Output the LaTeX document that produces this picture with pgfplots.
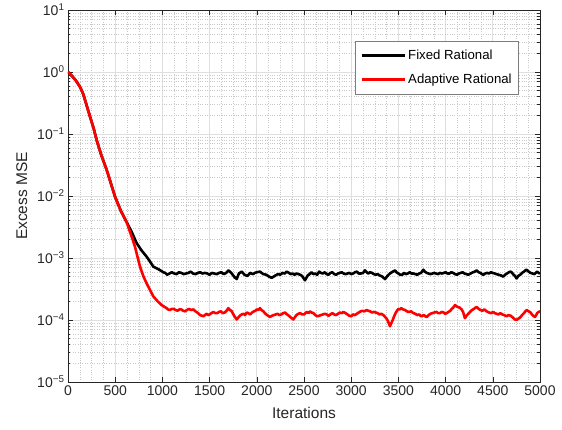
\documentclass[border=0pt]{standalone}
\usepackage{pgfplots}
\usepackage{pgfplotstable}
\pgfplotsset{compat=1.18}
\usepackage{fontspec}
\setmainfont{Liberation Sans}
\definecolor{tickgray}{HTML}{262626}
\definecolor{majgrid}{HTML}{DFDFDF}
\definecolor{mingrid}{HTML}{C8C8C8}

\pgfplotstableread{
x y
0 1.0
40 0.871
80 0.741
127 0.575
160 0.447
180 0.355
233 0.191
270 0.126
304 0.0794
350 0.0468
410 0.0263
498 0.00977
560 0.00575
621 0.0038
675 0.00263
727 0.00174
780 0.00132
833 0.00105
870 8.71e-4
904 7.24e-4
957 6.61e-4
1010 5.89e-4
1030 5.75e-4
1050 5.37e-4
1075 5.62e-4
1100 5.89e-4
1125 5.62e-4
1150 5.50e-4
1175 5.89e-4
1200 5.75e-4
1225 5.50e-4
1250 5.62e-4
1275 5.75e-4
1300 6.03e-4
1325 5.62e-4
1350 5.50e-4
1375 5.75e-4
1400 5.89e-4
1425 5.62e-4
1450 5.75e-4
1475 5.62e-4
1500 5.37e-4
1525 5.75e-4
1550 5.62e-4
1575 5.50e-4
1600 5.75e-4
1625 5.89e-4
1650 5.50e-4
1675 5.75e-4
1700 6.31e-4
1730 5.75e-4
1760 5.01e-4
1787 4.57e-4
1810 5.62e-4
1840 6.03e-4
1870 5.37e-4
1900 5.13e-4
1930 5.75e-4
1960 5.50e-4
1980 5.75e-4
2000 5.89e-4
2034 6.03e-4
2050 5.75e-4
2070 5.50e-4
2100 5.37e-4
2130 5.01e-4
2157 4.79e-4
2190 5.13e-4
2210 5.37e-4
2230 5.50e-4
2250 5.37e-4
2270 5.75e-4
2295 5.62e-4
2317 6.03e-4
2340 5.75e-4
2360 5.50e-4
2380 5.62e-4
2400 5.37e-4
2420 5.62e-4
2440 5.50e-4
2460 5.37e-4
2480 5.13e-4
2510 4.37e-4
2540 5.25e-4
2560 5.50e-4
2580 5.89e-4
2600 5.50e-4
2620 5.62e-4
2640 5.37e-4
2660 6.03e-4
2680 5.75e-4
2700 5.62e-4
2720 5.89e-4
2740 5.50e-4
2760 5.37e-4
2780 5.75e-4
2800 5.89e-4
2820 5.50e-4
2840 5.37e-4
2860 5.62e-4
2880 5.75e-4
2900 5.89e-4
2920 5.62e-4
2940 5.50e-4
2960 5.62e-4
2980 5.75e-4
3000 5.50e-4
3020 5.62e-4
3040 5.89e-4
3060 6.03e-4
3080 5.62e-4
3100 5.62e-4
3125 5.75e-4
3146 6.31e-4
3165 5.89e-4
3180 5.62e-4
3200 5.89e-4
3220 5.75e-4
3240 5.50e-4
3260 5.37e-4
3280 5.50e-4
3300 5.25e-4
3330 5.01e-4
3358 4.57e-4
3390 5.25e-4
3410 5.62e-4
3430 5.89e-4
3464 6.31e-4
3480 5.89e-4
3500 5.62e-4
3520 5.37e-4
3540 5.37e-4
3560 5.75e-4
3580 5.50e-4
3600 5.62e-4
3620 5.89e-4
3640 5.62e-4
3660 5.62e-4
3680 5.50e-4
3700 5.37e-4
3720 5.62e-4
3740 5.75e-4
3764 6.46e-4
3780 6.03e-4
3800 5.75e-4
3820 5.62e-4
3840 5.50e-4
3860 5.62e-4
3880 5.75e-4
3900 5.62e-4
3920 5.50e-4
3940 5.75e-4
3960 5.62e-4
3980 5.75e-4
4000 5.89e-4
4020 5.62e-4
4040 5.62e-4
4060 5.89e-4
4080 5.75e-4
4100 5.50e-4
4120 5.37e-4
4140 5.62e-4
4160 5.75e-4
4180 5.89e-4
4200 5.62e-4
4220 5.50e-4
4240 5.37e-4
4265 5.62e-4
4290 5.89e-4
4310 6.03e-4
4329 6.31e-4
4350 5.89e-4
4370 5.75e-4
4385 5.50e-4
4400 5.37e-4
4420 5.62e-4
4440 5.75e-4
4460 5.62e-4
4480 5.89e-4
4500 5.75e-4
4520 5.62e-4
4540 5.50e-4
4560 5.37e-4
4585 5.25e-4
4611 5.01e-4
4630 5.37e-4
4650 5.62e-4
4670 5.89e-4
4690 6.03e-4
4705 5.75e-4
4720 5.37e-4
4735 5.13e-4
4752 4.68e-4
4770 5.13e-4
4790 5.37e-4
4810 5.75e-4
4830 6.03e-4
4845 6.31e-4
4858 6.46e-4
4880 6.03e-4
4900 5.75e-4
4920 5.62e-4
4940 5.50e-4
4955 5.75e-4
4970 6.03e-4
4985 5.75e-4
5000 5.62e-4
}\fixedtab

\pgfplotstableread{
x y
0 1.0
40 0.871
80 0.741
127 0.575
160 0.447
180 0.355
233 0.191
270 0.126
304 0.0794
350 0.0468
410 0.0263
498 0.00977
560 0.00575
621 0.0038
650 0.00282
680 0.00209
710 0.00151
763 7.24e-4
800 5.01e-4
833 3.89e-4
870 3.02e-4
904 2.40e-4
950 2.00e-4
992 1.74e-4
1045 1.55e-4
1060 1.48e-4
1080 1.45e-4
1100 1.51e-4
1120 1.51e-4
1140 1.45e-4
1160 1.41e-4
1180 1.48e-4
1200 1.48e-4
1220 1.41e-4
1240 1.38e-4
1260 1.45e-4
1280 1.51e-4
1305 1.45e-4
1328 1.48e-4
1350 1.38e-4
1370 1.32e-4
1385 1.26e-4
1400 1.20e-4
1420 1.17e-4
1434 1.15e-4
1450 1.20e-4
1470 1.26e-4
1485 1.20e-4
1500 1.23e-4
1520 1.29e-4
1540 1.35e-4
1560 1.29e-4
1580 1.29e-4
1600 1.35e-4
1620 1.38e-4
1640 1.29e-4
1660 1.32e-4
1680 1.41e-4
1698 1.55e-4
1715 1.45e-4
1730 1.41e-4
1745 1.29e-4
1760 1.17e-4
1787 1.02e-4
1805 1.10e-4
1820 1.17e-4
1840 1.23e-4
1860 1.26e-4
1875 1.20e-4
1893 1.32e-4
1910 1.29e-4
1930 1.23e-4
1950 1.32e-4
1970 1.38e-4
1985 1.41e-4
2000 1.48e-4
2015 1.45e-4
2034 1.55e-4
2050 1.45e-4
2070 1.38e-4
2085 1.29e-4
2100 1.23e-4
2120 1.17e-4
2140 1.12e-4
2160 1.17e-4
2180 1.20e-4
2200 1.23e-4
2220 1.26e-4
2240 1.20e-4
2260 1.23e-4
2280 1.29e-4
2300 1.32e-4
2320 1.23e-4
2340 1.17e-4
2360 1.10e-4
2387 1.02e-4
2405 1.12e-4
2420 1.20e-4
2440 1.26e-4
2460 1.29e-4
2480 1.23e-4
2500 1.23e-4
2515 1.29e-4
2530 1.35e-4
2548 1.29e-4
2564 1.38e-4
2580 1.32e-4
2600 1.29e-4
2620 1.20e-4
2640 1.15e-4
2660 1.17e-4
2680 1.20e-4
2700 1.23e-4
2720 1.26e-4
2740 1.23e-4
2760 1.17e-4
2780 1.23e-4
2800 1.29e-4
2820 1.23e-4
2840 1.20e-4
2860 1.26e-4
2880 1.32e-4
2900 1.29e-4
2917 1.35e-4
2940 1.29e-4
2960 1.23e-4
2980 1.17e-4
3000 1.15e-4
3020 1.23e-4
3040 1.20e-4
3060 1.26e-4
3080 1.32e-4
3100 1.38e-4
3120 1.41e-4
3140 1.38e-4
3164 1.45e-4
3180 1.41e-4
3200 1.38e-4
3220 1.32e-4
3240 1.35e-4
3260 1.32e-4
3280 1.29e-4
3300 1.23e-4
3320 1.26e-4
3340 1.20e-4
3360 1.12e-4
3375 1.05e-4
3390 9.55e-5
3411 7.94e-5
3425 8.91e-5
3440 1.00e-4
3455 1.15e-4
3470 1.29e-4
3485 1.41e-4
3500 1.51e-4
3515 1.48e-4
3530 1.55e-4
3550 1.48e-4
3570 1.45e-4
3590 1.38e-4
3610 1.35e-4
3635 1.38e-4
3658 1.29e-4
3680 1.26e-4
3700 1.20e-4
3720 1.23e-4
3740 1.15e-4
3755 1.17e-4
3770 1.20e-4
3785 1.15e-4
3800 1.12e-4
3820 1.20e-4
3840 1.26e-4
3860 1.29e-4
3880 1.32e-4
3905 1.35e-4
3920 1.29e-4
3940 1.29e-4
3960 1.35e-4
3980 1.32e-4
3995 1.26e-4
4011 1.29e-4
4030 1.35e-4
4050 1.41e-4
4065 1.51e-4
4080 1.58e-4
4100 1.74e-4
4115 1.66e-4
4130 1.62e-4
4150 1.58e-4
4170 1.48e-4
4185 1.35e-4
4205 1.07e-4
4222 1.17e-4
4240 1.26e-4
4260 1.35e-4
4280 1.45e-4
4300 1.51e-4
4315 1.58e-4
4329 1.62e-4
4350 1.51e-4
4370 1.45e-4
4390 1.41e-4
4410 1.48e-4
4435 1.38e-4
4460 1.32e-4
4480 1.29e-4
4505 1.35e-4
4520 1.29e-4
4540 1.26e-4
4560 1.23e-4
4580 1.29e-4
4600 1.23e-4
4620 1.20e-4
4646 1.15e-4
4665 1.20e-4
4690 1.17e-4
4705 1.12e-4
4720 1.07e-4
4735 1.02e-4
4752 1.00e-4
4770 1.05e-4
4790 1.10e-4
4810 1.20e-4
4830 1.29e-4
4845 1.38e-4
4858 1.45e-4
4880 1.38e-4
4900 1.32e-4
4920 1.20e-4
4946 1.12e-4
4960 1.20e-4
4970 1.29e-4
4985 1.35e-4
5000 1.38e-4
}\adaptivetab

\begin{document}
\begin{tikzpicture}
\useasboundingbox (-68pt,-48pt) rectangle (494pt,382pt);
\begin{axis}[
  scale only axis,
  width=472pt, height=372pt,
  ymode=log,
  xmin=0, xmax=5000,
  ymin=1e-5, ymax=1e1,
  xtick={0,500,...,5000},
  ytick={1e-5,1e-4,1e-3,1e-2,1e-1,1,1e1},
  yticklabels={10\textsuperscript{−5},10\textsuperscript{−4},10\textsuperscript{−3},10\textsuperscript{−2},10\textsuperscript{−1},10\textsuperscript{0},10\textsuperscript{1}},
  minor x tick num=3,
  minor x tick style={draw=none},
  scaled x ticks=false,
  /pgf/number format/assume math mode=true,
  /pgf/number format/set thousands separator={},
  xmajorgrids, ymajorgrids, xminorgrids, yminorgrids,
  major grid style={majgrid, line width=0.6pt},
  minor grid style={mingrid, dotted, line width=0.5pt},
  axis line style={tickgray, line width=0.6pt},
  tick style={tickgray, line width=0.5pt},
  major tick length=5pt,
  minor tick length=2.5pt,
  tick align=inside,
  ticklabel style={font=\fontsize{14}{16}\selectfont, text=tickgray},
  label style={font=\fontsize{15.5}{18}\selectfont, text=tickgray},
  xlabel={Iterations},
  ylabel={Excess MSE},
  xlabel style={yshift=-5pt},
  ylabel style={yshift=3pt},
  legend style={at={(0.9555,0.9175)}, anchor=north east, draw=tickgray!60, line width=0.6pt,
    font=\fontsize{13.2}{15}\selectfont, text=black, inner xsep=5pt, inner ysep=7pt, row sep=9pt},
  legend cell align=left,
  legend image code/.code={\draw[#1, line width=2.5pt] (0pt,0pt) -- (43pt,0pt);},
]
\addplot[black, line width=2.6pt, line join=round] table[x=x,y=y] {\fixedtab};
\addlegendentry{Fixed Rational}
\addplot[red, line width=2.6pt, line join=round] table[x=x,y=y] {\adaptivetab};
\addlegendentry{Adaptive Rational}
\end{axis}
\end{tikzpicture}
\end{document}
